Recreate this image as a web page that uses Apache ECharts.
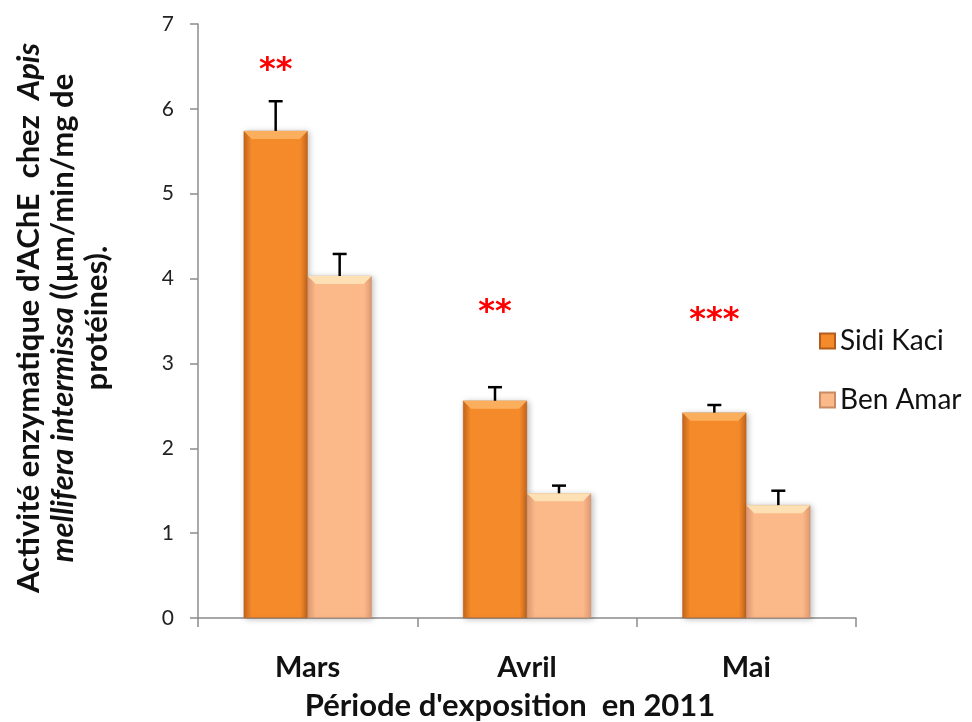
<!DOCTYPE html>
<html><head><meta charset="utf-8">
<script src="https://cdn.jsdelivr.net/npm/echarts@6/dist/echarts.min.js"></script>
<style>html,body{margin:0;padding:0;background:#fff}#c{width:972px;height:722px}</style>
</head><body><div id="c"></div>
<script>
const categories = ['Mars', 'Avril', 'Mai'];
const seriesNames = ['Sidi Kaci', 'Ben Amar'];
const sidiKaci = [5.74, 2.56, 2.42];
const sidiKaciErr = [0.35, 0.16, 0.09];
const benAmar = [4.03, 1.47, 1.33];
const benAmarErr = [0.26, 0.09, 0.17];
const stars = ['**', '**', '***'];
const starLevels = [6.45, 3.6, 3.5];
const yTicks = [0, 1, 2, 3, 4, 5, 6, 7];

const FONT = 'Lato';
const chart = echarts.init(document.getElementById('c'), null, {renderer: 'canvas'});

function grad(edge, mid) {
  return new echarts.graphic.LinearGradient(0, 0, 1, 0, [
    {offset: 0, color: edge}, {offset: 0.12, color: mid},
    {offset: 0.88, color: mid}, {offset: 1, color: edge}
  ]);
}
const BAR_W = 64;

function errRender(vals, errs, side, bevel) {
  return function (params, api) {
    const i = api.value(0);
    const top = api.coord([i, vals[i] + errs[i]]);
    const base = api.coord([i, vals[i]]);
    const x = base[0] + side * BAR_W / 2;
    const l = x - BAR_W / 2, r = x + BAR_W / 2, b = 8;
    return {
      type: 'group',
      children: [
        {type: 'polygon', shape: {points: [[l, base[1]], [r, base[1]], [r - b, base[1] + b], [l + b, base[1] + b]]},
          style: {fill: bevel}},
        {type: 'line', shape: {x1: x, y1: base[1], x2: x, y2: top[1]}, style: {stroke: '#000', lineWidth: 2.5}},
        {type: 'line', shape: {x1: x - 7, y1: top[1], x2: x + 7, y2: top[1]}, style: {stroke: '#000', lineWidth: 2.5}}
      ]
    };
  };
}

const option = {
  animation: false,
  backgroundColor: '#fff',
  grid: {left: 198, right: 116, top: 24, bottom: 104, outerBoundsMode: 'none', containLabel: false},
  legend: {
    orient: 'vertical', left: 814, top: 322, itemWidth: 15, itemHeight: 15, itemGap: 31,
    icon: 'rect', data: seriesNames,
    textStyle: {fontFamily: FONT, fontSize: 28, color: '#111'}
  },
  xAxis: {
    type: 'category', data: categories,
    axisLine: {lineStyle: {color: '#8c8c8c', width: 1.5}},
    axisTick: {show: true, length: 9, lineStyle: {color: '#8c8c8c', width: 1.5}},
    axisLabel: {fontFamily: FONT, fontWeight: 'bold', fontSize: 29, color: '#111', margin: 35},
    name: "Période d'exposition  en 2011", nameLocation: 'middle', nameGap: 72,
    nameTextStyle: {fontFamily: FONT, fontWeight: 'bold', fontSize: 31, color: '#111', padding: [0, 34, 0, 0]}
  },
  yAxis: {
    type: 'value', min: 0, max: 7, interval: 1,
    axisLine: {show: true, lineStyle: {color: '#8c8c8c', width: 1.5}},
    axisTick: {show: true, length: 8, lineStyle: {color: '#8c8c8c', width: 1.5}},
    splitLine: {show: false},
    axisLabel: {fontFamily: FONT, fontSize: 21, color: '#222', margin: 24,
      formatter: v => yTicks.includes(v) ? String(v) : ''}
  },
  graphic: [{
    type: 'text', x: 63, y: 318, rotation: Math.PI / 2,
    style: {
      text: "{b|Activité enzymatique d'AChE  chez  }{bi|Apis}\n{bi|mellifera intermissa}{b| ((µm/min/mg de}\n{b|protéines).}",
      align: 'center', verticalAlign: 'middle', fill: '#111',
      rich: {
        b: {fontFamily: FONT, fontWeight: 'bold', fontSize: 31, lineHeight: 34, fill: '#111'},
        bi: {fontFamily: FONT, fontWeight: 'bold', fontStyle: 'italic', fontSize: 31, lineHeight: 34, fill: '#111'}
      }
    }
  }],
  series: [
    {
      name: seriesNames[0], type: 'bar', data: sidiKaci, barWidth: BAR_W, barGap: '0%',
      itemStyle: {color: grad('#c4651c', '#f58a2a'), borderColor: '#b35d1c', borderWidth: 0.5,
        shadowColor: 'rgba(0,0,0,0.25)', shadowBlur: 6, shadowOffsetX: 2, shadowOffsetY: 1}
    },
    {
      name: seriesNames[1], type: 'bar', data: benAmar, barWidth: BAR_W,
      itemStyle: {color: grad('#e09a72', '#fbb889'), borderColor: '#c98a66', borderWidth: 0.5,
        shadowColor: 'rgba(0,0,0,0.25)', shadowBlur: 6, shadowOffsetX: 2, shadowOffsetY: 1}
    },
    {
      type: 'custom', data: categories.map((c, i) => [i]), z: 5,
      renderItem: errRender(sidiKaci, sidiKaciErr, -1, '#fbae5c')
    },
    {
      type: 'custom', data: categories.map((c, i) => [i]), z: 5,
      renderItem: errRender(benAmar, benAmarErr, 1, '#fde0b4')
    },
    {
      type: 'custom', data: categories.map((c, i) => [i, starLevels[i]]), z: 6,
      renderItem: function (params, api) {
        const i = api.value(0);
        const p = api.coord([i, api.value(1)]);
        return {
          type: 'text', x: p[0] - BAR_W / 2, y: p[1],
          style: {text: stars[i], fill: '#ff0000', fontFamily: 'DejaVu Sans', fontWeight: 'bold', fontSize: 32,
            letterSpacing: 3, align: 'center', verticalAlign: 'middle'}
        };
      }
    }
  ]
};
chart.setOption(option);
</script>
</body></html>
